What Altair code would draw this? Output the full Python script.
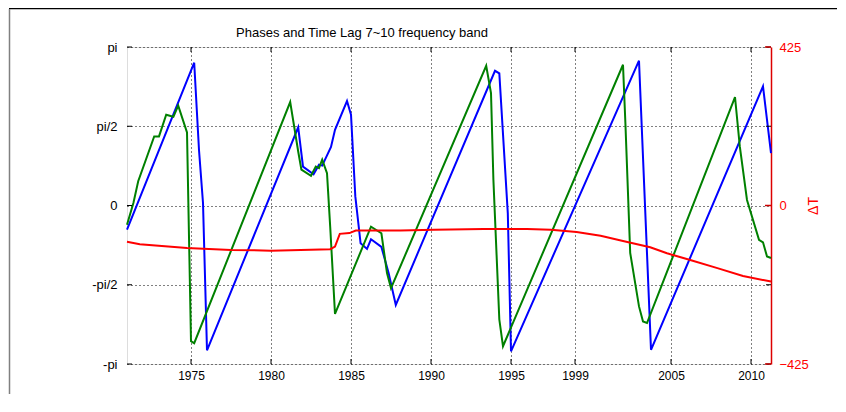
import altair as alt
import pandas as pd

# ---- data ----
blue_year = [1971.0, 1975.2, 1975.5, 1975.75, 1976.0, 1981.7, 1982.0, 1982.66, 1983.0, 1983.2,
             1983.75, 1984.0, 1984.75, 1985.0, 1985.27, 1985.6, 1986.0, 1986.25, 1986.9, 1987.35,
             1987.8, 1994.0, 1994.27, 1994.8, 1995.0, 2003.0, 2003.75, 2010.75, 2011.25]
blue_phase = [-0.48, 2.83, 1.10, 0.05, -2.87, 1.55, 0.77, 0.62, 0.81, 0.79,
              1.16, 1.50, 2.07, 1.80, 0.18, -0.75, -0.86, -0.67, -0.82, -1.34,
              -1.97, 2.67, 2.62, -0.15, -2.89, 2.87, -2.86, 2.36, 1.04]

green_year = [1971.0, 1971.4, 1971.7, 1972.7, 1973.0, 1973.45, 1973.9, 1974.2, 1974.75, 1975.0,
              1975.2, 1981.2, 1981.7, 1981.9, 1982.5, 1982.8, 1983.0, 1983.2, 1983.5, 1983.7,
              1984.0, 1986.25, 1986.9, 1987.25, 1987.5, 1993.45, 1993.75, 1993.9, 1994.27, 1994.5,
              2002.0, 2002.15, 2002.45, 2003.0, 2003.25, 2003.5, 2004.4, 2009.0, 2009.3, 2009.75,
              2010.5, 2010.75, 2011.0, 2011.25]
green_phase = [-0.38, 0.05, 0.48, 1.37, 1.37, 1.80, 1.76, 1.98, 1.45, -2.69,
               -2.73, 2.05, 1.07, 0.71, 0.59, 0.77, 0.74, 0.91, 0.64, -0.42,
               -2.15, -0.42, -0.55, -1.34, -1.64, 2.77, 2.23, 0.51, -2.26, -2.79,
               2.79, 1.63, -0.94, -2.00, -2.30, -2.33, -1.60, 2.15, 1.17, 0.11,
               -0.68, -0.73, -1.01, -1.04]

dt_year = [1971.0, 1971.8, 1974.75, 1977.5, 1980.0, 1983.7, 1984.0, 1984.3, 1984.9, 1985.3,
           1988.1, 1990.2, 1993.3, 1996.0, 1997.5, 1999.1, 2000.6, 2002.0, 2003.7, 2004.75,
           2006.2, 2007.9, 2009.5, 2011.25]
dt_value = [-97, -104, -114, -119, -121, -117, -110, -76, -74, -67,
            -67, -65, -63, -63, -65, -71, -81, -95, -112, -128,
            -146, -168, -189, -204]

x_ticks = [1975, 1980, 1985, 1990, 1995, 1999, 2005, 2010]
y_ticks = [-3.14159265, -1.57079633, 0.0, 1.57079633, 3.14159265]
y_labels = ["-pi", "-pi/2", "0", "pi/2", "pi"]
dt_ticks = [-425, 0, 425]
x_domain = [1971.0, 2011.25]
title_text = "Phases and Time Lag 7~10 frequency band"

W, H = 644, 317
FONT = "Liberation Sans Narrow, Liberation Sans, Arial, sans-serif"

df_blue = pd.DataFrame({"year": blue_year, "phase": blue_phase})
df_green = pd.DataFrame({"year": green_year, "phase": green_phase})
df_dt = pd.DataFrame({"year": dt_year, "dT": dt_value})
df_xt = pd.DataFrame({"year": x_ticks})
df_yt = pd.DataFrame({"v": y_ticks})
df_dtt = pd.DataFrame({"v": dt_ticks})
df_title = pd.DataFrame({"t": [title_text]})

xscale = alt.Scale(domain=x_domain, nice=False, zero=False)
yscale = alt.Scale(domain=[y_ticks[0], y_ticks[-1]], nice=False, zero=False)
dtscale = alt.Scale(domain=[-425, 425], nice=False, zero=False)

label_expr = " : ".join(
    [f"abs(datum.value - ({v})) < 0.01 ? '{l}'" for v, l in zip(y_ticks, y_labels)]
) + " : ''"

xaxis = alt.Axis(values=x_ticks, format="d", grid=True, gridDash=[1, 3], gridColor="black",
                 gridOpacity=1, ticks=False, domain=False, labelFont=FONT, labelFontSize=12,
                 labelColor="black", labelPadding=6, title=None, labelFlush=False)
yaxis = alt.Axis(values=y_ticks, labelExpr=label_expr, grid=True, gridDash=[1, 3],
                 gridColor="black", gridOpacity=1, ticks=False, domain=False, labelFont=FONT,
                 labelFontSize=13, labelColor="black", labelPadding=10, title=None)

blue = alt.Chart(df_blue).mark_line(color="#0000ff", strokeWidth=2).encode(
    x=alt.X("year:Q", scale=xscale, axis=xaxis),
    y=alt.Y("phase:Q", scale=yscale, axis=yaxis),
)
green = alt.Chart(df_green).mark_line(color="#008000", strokeWidth=2).encode(
    x=alt.X("year:Q", scale=xscale),
    y=alt.Y("phase:Q", scale=yscale),
)
# inward ticks (MATLAB style)
xt_bot = alt.Chart(df_xt).mark_rule(color="black").encode(
    x=alt.X("year:Q", scale=xscale), y=alt.value(H), y2=alt.value(H - 5))
xt_top = alt.Chart(df_xt).mark_rule(color="black").encode(
    x=alt.X("year:Q", scale=xscale), y=alt.value(0), y2=alt.value(5))
yt_left = alt.Chart(df_yt).mark_rule(color="black").encode(
    y=alt.Y("v:Q", scale=yscale), x=alt.value(0), x2=alt.value(5))
yt_right = alt.Chart(df_yt).mark_rule(color="black").encode(
    y=alt.Y("v:Q", scale=yscale), x=alt.value(W - 5), x2=alt.value(W))

# outer figure border
border_top = alt.Chart(df_xt.head(1)).mark_rule(color="black", strokeWidth=1.5).encode(
    x=alt.value(-118), x2=alt.value(W + 80), y=alt.value(-38.5))
border_left = alt.Chart(df_xt.head(1)).mark_rule(color="#808080", strokeWidth=1.5).encode(
    x=alt.value(-117.5), y=alt.value(-38), y2=alt.value(H + 60))

title = alt.Chart(df_title).mark_text(font=FONT, fontSize=13, color="black",
                                      align="center", baseline="middle").encode(
    x=alt.value(235), y=alt.value(-14), text="t:N")

left = alt.layer(blue, green, xt_bot, xt_top, yt_left, yt_right, border_top, border_left, title)

red = alt.Chart(df_dt).mark_line(color="#ff0000", strokeWidth=2).encode(
    x=alt.X("year:Q", scale=xscale),
    y=alt.Y("dT:Q", scale=dtscale,
            axis=alt.Axis(orient="right", values=dt_ticks, format="d", grid=False, ticks=False,
                          domain=True, domainColor="#dd0000", domainWidth=1.5,
                          labelColor="#ff0000", labelFont=FONT, labelFontSize=13,
                          labelPadding=8, title="ΔT", titleColor="#ff0000", titleFont=FONT,
                          titleFontSize=14, titleFontWeight="normal", titlePadding=12,
                          titleAngle=270)),
)
dt_tick = alt.Chart(df_dtt).mark_rule(color="#cc0000", strokeWidth=1.5).encode(
    y=alt.Y("v:Q", scale=dtscale), x=alt.value(W - 6), x2=alt.value(W))
right = alt.layer(red, dt_tick)

chart = alt.layer(left, right).resolve_scale(y="independent").properties(
    width=W, height=H,
    autosize=alt.AutoSizeParams(type="none"),
    padding={"left": 119, "top": 39, "right": 66, "bottom": 30},
).configure_view(stroke="black", strokeWidth=1.2).configure(background="white")

chart.save("out.html", embed_options={"renderer": "svg", "actions": False})
